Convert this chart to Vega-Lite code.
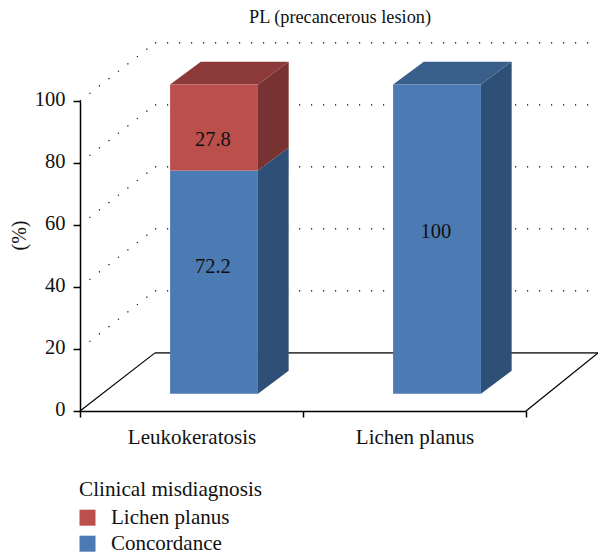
{
"$schema":"https://vega.github.io/schema/vega-lite/v6.json",
"width":446,"height":310,"autosize":"none",
"padding":{"left":80,"top":101,"right":72,"bottom":143},
"background":"white",
"title":{"text":"PL (precancerous lesion)","font":"Liberation Serif","fontSize":18.3,"fontWeight":"normal","color":"#111","anchor":"middle","frame":"group","dx":37,"offset":15},
"config":{"view":{"stroke":null},"font":"Liberation Serif"},
"resolve":{"axis":{"x":"independent","y":"independent"}},
"datasets":{
"bars":[
{"category":"Leukokeratosis","series":"Concordance","value":72.2},
{"category":"Leukokeratosis","series":"Lichen planus","value":27.8},
{"category":"Lichen planus","series":"Concordance","value":100}
],
"levels":[{"level":0},{"level":20},{"level":40},{"level":60},{"level":80},{"level":100}]
},
"layer":[
{"data":{"name":"levels"},
"transform":[{"filter":"datum.level>0"},{"calculate":"0","as":"a"},{"calculate":"0.3363","as":"b"},{"calculate":"datum.level+18.75","as":"l2"}],
"mark":{"type":"rule","color":"#000","strokeWidth":1.2,"strokeDash":[1.2,10.8]},
"encoding":{
"x":{"field":"a","type":"quantitative","scale":{"domain":[0,2],"nice":false,"zero":false},
"axis":{"values":[0,0.5,1,1.5,2],"title":null,"grid":false,"domainColor":"#000","domainWidth":1.5,"tickColor":"#000","tickWidth":1.5,"tickSize":6,
"tickOpacity":{"condition":{"test":"datum.value%1===0","value":1},"value":0},
"labelExpr":"datum.value==0.5?'Leukokeratosis':datum.value==1.5?'Lichen planus':''","labelFont":"Liberation Serif","labelFontSize":21,"labelColor":"#111","labelPadding":9,"labelAngle":0,"labelOverlap":false,"labelBound":false,"labelFlush":false}},
"x2":{"field":"b"},
"y":{"field":"level","type":"quantitative","scale":{"domain":[0,100],"nice":false,"zero":false},
"axis":{"values":[0,20,40,60,80,100],"title":"(%)","titleFont":"Liberation Serif","titleFontSize":20,"titleFontWeight":"normal","titleColor":"#111","titlePadding":5,"titleY":134,"grid":false,"domainColor":"#000","domainWidth":1.5,"tickColor":"#000","tickWidth":1.5,"tickSize":7,"labelFont":"Liberation Serif","labelFontSize":20.5,"labelColor":"#111","labelPadding":8,"labelOffset":-1.5}},
"y2":{"field":"l2"}}},
{"data":{"name":"levels"},
"transform":[{"filter":"datum.level>0"},{"calculate":"0.3363","as":"a"},{"calculate":"2.3229","as":"b"},{"calculate":"datum.level+18.75","as":"l2"}],
"mark":{"type":"rule","color":"#000","strokeWidth":1.2,"strokeDash":[1.2,10.8]},
"encoding":{"x":{"field":"a","type":"quantitative","axis":null},"x2":{"field":"b"},"y":{"field":"l2","type":"quantitative","axis":null}}},
{"data":{"name":"levels"},
"transform":[{"filter":"datum.level==0"},{"calculate":"0.3363","as":"a"},{"calculate":"2.3229","as":"b"},{"calculate":"datum.level+18.75","as":"l2"}],
"mark":{"type":"rule","color":"#444","strokeWidth":1.6},
"encoding":{"x":{"field":"a","type":"quantitative","axis":null},"x2":{"field":"b"},"y":{"field":"l2","type":"quantitative","axis":null}}},
{"data":{"name":"levels"},
"transform":[{"filter":"datum.level==0"},{"calculate":"0","as":"a"},{"calculate":"0.3363","as":"b"},{"calculate":"datum.level+18.75","as":"l2"}],
"mark":{"type":"rule","color":"#000","strokeWidth":1.2},
"encoding":{"x":{"field":"a","type":"quantitative","axis":null},"x2":{"field":"b"},"y":{"field":"level","type":"quantitative","axis":null},"y2":{"field":"l2"}}},
{"data":{"name":"levels"},
"transform":[{"filter":"datum.level==0"},{"calculate":"2","as":"a"},{"calculate":"2.3229","as":"b"},{"calculate":"datum.level+18.75","as":"l2"}],
"mark":{"type":"rule","color":"#000","strokeWidth":1.2},
"encoding":{"x":{"field":"a","type":"quantitative","axis":null},"x2":{"field":"b"},"y":{"field":"level","type":"quantitative","axis":null},"y2":{"field":"l2"}}},
{"data":{"name":"bars"},
"transform":[
{"stack":"value","groupby":["category"],"sort":[{"field":"series","order":"ascending"}],"as":["s0","s1"]},
{"calculate":"indexof(['Leukokeratosis','Lichen planus'],datum.category)","as":"slot"},
{"calculate":"datum.slot+0.404","as":"left"},{"calculate":"datum.slot+0.798","as":"right"},
{"calculate":"5.6+datum.s0*0.997","as":"yb"},{"calculate":"5.6+datum.s1*0.997","as":"yt"},
{"calculate":"[0,1]","as":"t"},{"flatten":["t"]},
{"calculate":"datum.right+datum.t*0.1377","as":"xs"},
{"calculate":"datum.yb+datum.t*7.4","as":"lo"},{"calculate":"datum.yt+datum.t*7.4","as":"hi"}],
"mark":{"type":"area","orient":"vertical"},
"encoding":{"x":{"field":"xs","type":"quantitative","axis":null},"y":{"field":"lo","type":"quantitative","axis":null,"stack":null},"y2":{"field":"hi"},"detail":[{"field":"category"},{"field":"series"}],
"color":{"condition":{"test":"datum.series=='Concordance'","value":"#2F5076"},"value":"#783231"}}},
{"data":{"name":"bars"},
"transform":[
{"stack":"value","groupby":["category"],"sort":[{"field":"series","order":"ascending"}],"as":["s0","s1"]},
{"filter":"datum.s1==100"},
{"calculate":"indexof(['Leukokeratosis','Lichen planus'],datum.category)","as":"slot"},
{"calculate":"datum.slot+0.404","as":"left"},{"calculate":"datum.slot+0.798","as":"right"},
{"calculate":"5.6+datum.s1*0.997","as":"yt"},
{"calculate":"[0,1,2,3]","as":"t"},{"flatten":["t"]},
{"calculate":"datum.t==0?datum.left:datum.t==1?datum.left+0.1377:datum.t==2?datum.right:datum.right+0.1377","as":"xs"},
{"calculate":"datum.t==3?datum.yt+7.4:datum.yt","as":"lo"},{"calculate":"datum.t==0?datum.yt:datum.yt+7.4","as":"hi"}],
"mark":{"type":"area","orient":"vertical"},
"encoding":{"x":{"field":"xs","type":"quantitative","axis":null},"y":{"field":"lo","type":"quantitative","axis":null,"stack":null},"y2":{"field":"hi"},"detail":[{"field":"category"},{"field":"series"}],
"color":{"condition":{"test":"datum.series=='Concordance'","value":"#3A5F8A"},"value":"#8B3A39"}}},
{"data":{"name":"bars"},
"transform":[
{"stack":"value","groupby":["category"],"sort":[{"field":"series","order":"ascending"}],"as":["s0","s1"]},
{"calculate":"indexof(['Leukokeratosis','Lichen planus'],datum.category)","as":"slot"},
{"calculate":"datum.slot+0.404","as":"left"},{"calculate":"datum.slot+0.798","as":"right"},
{"calculate":"5.6+datum.s0*0.997","as":"yb"},{"calculate":"5.6+datum.s1*0.997","as":"yt"}],
"mark":{"type":"rect"},
"encoding":{"x":{"field":"left","type":"quantitative","axis":null},"x2":{"field":"right"},"y":{"field":"yb","type":"quantitative","axis":null},"y2":{"field":"yt"},
"color":{"field":"series","type":"nominal","scale":{"domain":["Lichen planus","Concordance"],"range":["#BB4F4C","#4C7BB3"]},
"legend":{"orient":"none","legendX":-1,"legendY":378,"title":"Clinical misdiagnosis","titleFont":"Liberation Serif","titleFontSize":21.2,"titleFontWeight":"normal","titleColor":"#111","titlePadding":7,"titleLimit":320,"labelLimit":300,"labelFont":"Liberation Serif","labelFontSize":21,"labelColor":"#111","labelOffset":13,"symbolType":"square","symbolSize":256,"symbolStrokeWidth":0,"symbolOffset":-2,"rowPadding":4,"symbolOpacity":1}}}},
{"data":{"name":"bars"},
"transform":[
{"stack":"value","groupby":["category"],"sort":[{"field":"series","order":"ascending"}],"as":["s0","s1"]},
{"calculate":"indexof(['Leukokeratosis','Lichen planus'],datum.category)+0.596","as":"cx"},
{"calculate":"16.8+0.82*(datum.s0+datum.s1)/2","as":"cy"}],
"mark":{"type":"text","font":"Liberation Serif","fontSize":20.5,"color":"#111","align":"center","baseline":"middle"},
"encoding":{"x":{"field":"cx","type":"quantitative","axis":null},"y":{"field":"cy","type":"quantitative","axis":null},"text":{"field":"value","type":"nominal"}}}
]
}
